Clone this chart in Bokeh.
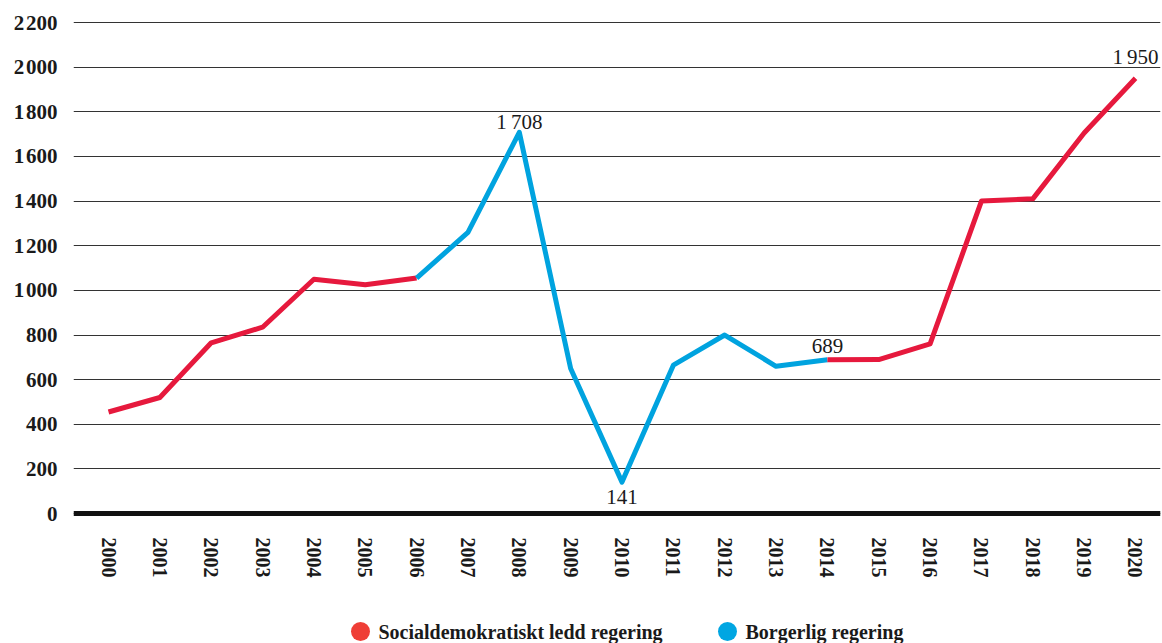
from bokeh.plotting import figure
from bokeh.layouts import column
from bokeh.models import Range1d, FixedTicker, Span, Label
from bokeh.core.properties import value
from bokeh.embed import file_html
from bokeh.resources import INLINE

years = list(range(2000, 2021))
values = [455, 520, 765, 835, 1050, 1025, 1055, 1260, 1708, 650, 141,
          665, 800, 660, 689, 690, 760, 1400, 1410, 1705, 1950]
# government for each segment between consecutive years
segment_gov = ["S"] * 6 + ["B"] * 8 + ["S"] * 6
y_ticks = list(range(0, 2201, 200))
annotated_years = [2008, 2010, 2014, 2020]
annotation_offsets = [10, -15, 14, 21]
legend_labels = ["Socialdemokratiskt ledd regering", "Borgerlig regering"]

RED_LINE = "#e6193d"
BLUE_LINE = "#00a3df"
RED_DOT = "#ef3e36"
BLUE_DOT = "#00a6e2"
FONT = "Liberation Serif"
TEXT = "#1a1a1a"


def fmt(v, sep="\u2009"):
    return f"{v:,}".replace(",", sep)


p = figure(width=1162, height=605, output_backend="svg", toolbar_location=None,
           x_range=Range1d(1999.318, 2020.487), y_range=Range1d(-31, 2227),
           min_border_left=73, min_border_right=2, min_border_top=16,
           min_border_bottom=85)
p.outline_line_color = None
p.background_fill_color = "white"
p.border_fill_color = "white"

p.xgrid.grid_line_color = None
p.ygrid.grid_line_color = "#333333"
p.ygrid.grid_line_width = 1
p.yaxis.ticker = FixedTicker(ticks=y_ticks)
p.xaxis.ticker = FixedTicker(ticks=years)
p.yaxis.major_label_overrides = {v: fmt(v, "\u200a") for v in y_ticks}

for ax in (p.xaxis, p.yaxis):
    ax.axis_line_color = None
    ax.major_tick_line_color = None
    ax.minor_tick_line_color = None
    ax.major_tick_out = 0
    ax.major_tick_in = 0
    ax.minor_tick_out = 0
    ax.major_label_text_font = FONT
    ax.major_label_text_font_style = "bold"
    ax.major_label_text_color = TEXT
p.yaxis.major_label_text_font_size = "21px"
p.xaxis.major_label_text_font_size = "20px"
p.yaxis.major_label_standoff = 16
p.xaxis.major_label_standoff = 17
p.xaxis.major_label_orientation = "vertical"

p.add_layout(Span(location=0, dimension="width", line_color="#111111",
                  line_width=5))

# draw contiguous runs of the same government
runs = []
start = 0
for i in range(1, len(segment_gov) + 1):
    if i == len(segment_gov) or segment_gov[i] != segment_gov[start]:
        runs.append((start, i, segment_gov[start]))
        start = i
for s, e, g in runs:
    p.line(years[s:e + 1], values[s:e + 1],
           line_color=RED_LINE if g == "S" else BLUE_LINE,
           line_width=5, line_join="round")

for yr, off in zip(annotated_years, annotation_offsets):
    v = values[years.index(yr)]
    p.add_layout(Label(x=yr, y=v, text=fmt(v), y_offset=off,
                       text_align="center", text_baseline="middle",
                       text_font=FONT, text_font_size="21px",
                       text_color=TEXT))

# legend strip below the chart (x in page pixels, frame aligned with chart)
lg = figure(width=1162, height=38, output_backend="svg", toolbar_location=None,
            x_range=Range1d(73, 1160), y_range=Range1d(0, 38),
            x_axis_type=None, y_axis_type=None, min_border=0,
            min_border_left=73, min_border_right=2)
lg.outline_line_color = None
lg.grid.grid_line_color = None
legend_dot_x = [360, 727]
legend_y = 12
lg.scatter(legend_dot_x, [legend_y] * 2, marker="circle", size=19,
           fill_color=[RED_DOT, BLUE_DOT], line_color=None)
lg.text([x + 18 for x in legend_dot_x], [legend_y] * 2, text=legend_labels,
        text_font=value(FONT), text_font_style="bold",
        text_font_size="20px", text_color=TEXT,
        text_align="left", text_baseline="middle")

open("out.html", "w").write(file_html(column(p, lg), INLINE))
